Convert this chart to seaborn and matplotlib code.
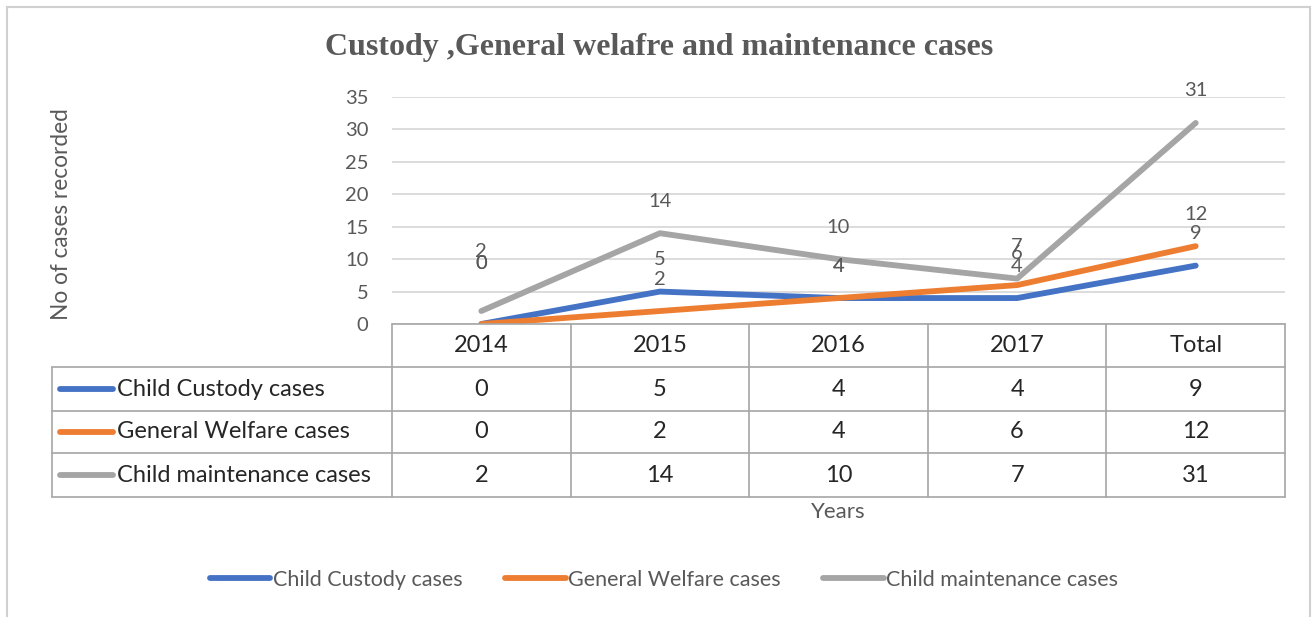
import matplotlib
matplotlib.use("Agg")
import matplotlib.pyplot as plt
import matplotlib.transforms as mtransforms
from matplotlib.patches import Rectangle
from matplotlib.lines import Line2D
import seaborn as sns
import pandas as pd

# ---- data -------------------------------------------------------------
categories = ["2014", "2015", "2016", "2017", "Total"]
series_names = ["Child Custody cases", "General Welfare cases", "Child maintenance cases"]
child_custody = [0, 5, 4, 4, 9]
general_welfare = [0, 2, 4, 6, 12]
child_maintenance = [2, 14, 10, 7, 31]
y_ticks = [0, 5, 10, 15, 20, 25, 30, 35]

title_text = "Custody ,General welafre and maintenance cases"
y_label = "No of cases recorded"
x_label = "Years"

# ---- style ------------------------------------------------------------
colors = ["#4472C4", "#ED7D31", "#A5A5A5"]
text_gray = "#595959"
grid_gray = "#D9D9D9"
table_gray = "#A6A6A6"

W, H = 1316, 617
sns.set_theme(style="white")
plt.rcParams["font.family"] = ["Lato", "DejaVu Sans"]

fig = plt.figure(figsize=(W / 100, H / 100), dpi=100)


def fy(y):
    """pixel row (from top) -> figure fraction"""
    return 1 - y / H


def fx(x):
    return x / W


# chart border
fig.patches.append(Rectangle((fx(7), fy(625)), fx(1310) - fx(7), fy(7) - fy(625),
                             transform=fig.transFigure, fill=False,
                             edgecolor="#D0D0D0", lw=1.5))

ax = fig.add_axes([fx(392), fy(324), fx(1285) - fx(392), fy(97) - fy(324)])

values = [child_custody, general_welfare, child_maintenance]
df = pd.DataFrame({
    "category": categories * len(series_names),
    "cases": [v for vals in values for v in vals],
    "series": [s for s in series_names for _ in categories],
})

sns.lineplot(data=df, x="category", y="cases", hue="series",
             hue_order=series_names, palette=dict(zip(series_names, colors)),
             lw=4.2, sort=False, legend=False, ax=ax,
             solid_capstyle="round", solid_joinstyle="round")

ax.set_xlim(-0.5, len(categories) - 0.5)
ax.set_ylim(0, 35)
ax.set_yticks(y_ticks)
ax.set_xticks([])
ax.set_xlabel("")
ax.set_ylabel("")
ax.grid(axis="y", color=grid_gray, lw=1.3)
ax.set_axisbelow(True)
for s in ax.spines.values():
    s.set_visible(False)
ax.tick_params(axis="y", length=0, pad=17, labelsize=14.5, labelcolor=text_gray)

# data labels above each point
label_lift = {"2014": 60}
for vals in values:
    for i, v in enumerate(vals):
        ax.annotate(str(v), (i, v), xytext=(0, label_lift.get(categories[i], 32)),
                    textcoords="offset pixels", ha="center", va="center",
                    fontsize=14.5, color=text_gray)

# title and axis titles
fig.text(fx(659), fy(48), title_text, ha="center", va="center",
         fontsize=23, fontweight="bold", color=text_gray,
         family=["Liberation Serif", "DejaVu Serif"])
fig.text(fx(62), fy(214), y_label, rotation=90, ha="center", va="center",
         fontsize=16.3, color=text_gray)

# ---- data table under the axis -----------------------------------------
tb = mtransforms.blended_transform_factory(ax.transData, fig.transFigure)
row_edges = [324, 367, 411, 453, 497]
label_left = 52
n = len(categories)

# horizontal rules
ax.add_line(Line2D([-0.5, n - 0.5], [fy(324)] * 2, transform=tb, color=table_gray,
                   lw=1.2, clip_on=False))
for y in row_edges[1:]:
    fig.lines.append(Line2D([fx(label_left), ax.transData.transform((n - 0.5, 0))[0] / W],
                            [fy(y)] * 2, transform=fig.transFigure,
                            color=table_gray, lw=1.2))
# vertical rules
for i in range(n + 1):
    ax.add_line(Line2D([i - 0.5] * 2, [fy(324), fy(497)], transform=tb,
                       color=table_gray, lw=1.2, clip_on=False))
fig.lines.append(Line2D([fx(label_left)] * 2, [fy(367), fy(497)],
                        transform=fig.transFigure, color=table_gray, lw=1.2))

row_mid = [(a + b) / 2 for a, b in zip(row_edges[:-1], row_edges[1:])]
for i, c in enumerate(categories):
    ax.text(i, fy(row_mid[0]), c, transform=tb, ha="center", va="center",
            fontsize=17, color="#262626")
for r, (name, vals, col) in enumerate(zip(series_names, values, colors)):
    ym = row_mid[r + 1]
    fig.lines.append(Line2D([fx(60), fx(113)], [fy(ym)] * 2, transform=fig.transFigure,
                            color=col, lw=4.2, solid_capstyle="round"))
    fig.text(fx(117), fy(ym), name, ha="left", va="center", fontsize=17,
             color="#262626")
    for i, v in enumerate(vals):
        ax.text(i, fy(ym), str(v), transform=tb, ha="center", va="center",
                fontsize=17, color="#262626")

ax.text((n - 1) / 2, fy(512), x_label, transform=tb, ha="center", va="center",
        fontsize=16, color=text_gray)

# ---- legend ------------------------------------------------------------
handles = [Line2D([], [], color=c, lw=4.2, solid_capstyle="round") for c in colors]
fig.legend(handles, series_names, loc="center", bbox_to_anchor=(fx(664), fy(580)),
           ncol=3, frameon=False, fontsize=15.5, labelcolor=text_gray,
           handlelength=2.8, handletextpad=0.1, columnspacing=2.0)

fig.savefig("out.png", dpi=100)
